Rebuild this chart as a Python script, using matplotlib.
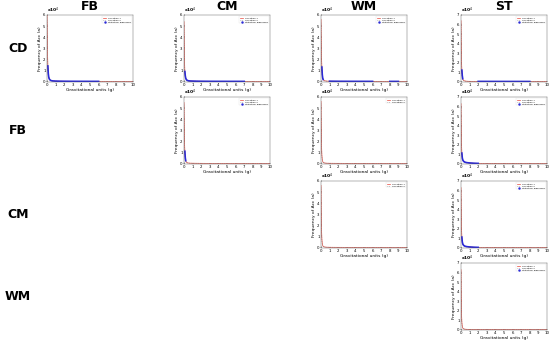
import numpy as np
import matplotlib.pyplot as plt

# --- data (frequency in units of 10^4) ---
x_g = [0, 0.05, 0.1, 0.15, 0.2, 0.25, 0.3, 0.4, 0.5, 0.7, 1.0, 1.5, 2, 3, 4, 5, 6, 7, 8, 9, 10]

col_titles = ['FB', 'CM', 'WM', 'ST']
row_titles = ['CD', 'FB', 'CM', 'WM']

# (row, col, ymax, condition 1, condition 2, significant x-ranges, legend entries)
panels = [
    (0, 0, 6, [6.2, 3.1, 1.4, 0.7, 0.40, 0.26, 0.18, 0.11, 0.07, 0.045, 0.03, 0.02, 0.015, 0.01, 0.008, 0.006, 0.005, 0.004, 0.003, 0.002, 0.001],
              [6.0, 2.9, 1.2, 0.6, 0.34, 0.22, 0.15, 0.09, 0.06, 0.040, 0.025, 0.018, 0.012, 0.008, 0.006, 0.005, 0.004, 0.003, 0.002, 0.002, 0.001],
              [(0.1, 6.5)], 3),
    (0, 1, 6, [5.4, 2.2, 0.9, 0.5, 0.30, 0.20, 0.14, 0.09, 0.06, 0.040, 0.03, 0.02, 0.015, 0.01, 0.008, 0.006, 0.005, 0.004, 0.003, 0.002, 0.001],
              [5.1, 2.0, 0.8, 0.45, 0.26, 0.17, 0.12, 0.08, 0.05, 0.035, 0.025, 0.018, 0.012, 0.008, 0.006, 0.005, 0.004, 0.003, 0.002, 0.002, 0.001],
              [(0.1, 7.0)], 3),
    (0, 2, 6, [5.6, 2.6, 1.3, 0.6, 0.30, 0.18, 0.12, 0.07, 0.05, 0.030, 0.02, 0.015, 0.012, 0.01, 0.008, 0.006, 0.005, 0.004, 0.003, 0.002, 0.001],
              [5.3, 2.4, 1.1, 0.5, 0.25, 0.15, 0.10, 0.06, 0.04, 0.025, 0.018, 0.012, 0.01, 0.008, 0.006, 0.005, 0.004, 0.003, 0.002, 0.002, 0.001],
              [(0.1, 0.25), (1.0, 6.5), (7.5, 9.0)], 3),
    (0, 3, 7, [6.4, 2.5, 1.2, 0.6, 0.30, 0.18, 0.12, 0.07, 0.05, 0.030, 0.02, 0.015, 0.012, 0.01, 0.008, 0.006, 0.005, 0.004, 0.003, 0.002, 0.001],
              [6.1, 2.3, 1.0, 0.5, 0.25, 0.15, 0.10, 0.06, 0.04, 0.025, 0.018, 0.012, 0.01, 0.008, 0.006, 0.005, 0.004, 0.003, 0.002, 0.002, 0.001],
              [(0.1, 0.2), (2.0, 8.5)], 3),
    (1, 1, 6, [5.5, 2.2, 1.1, 0.5, 0.25, 0.15, 0.10, 0.06, 0.04, 0.025, 0.02, 0.015, 0.01, 0.008, 0.006, 0.005, 0.004, 0.003, 0.002, 0.002, 0.001],
              [5.3, 2.0, 0.9, 0.4, 0.20, 0.12, 0.08, 0.05, 0.03, 0.020, 0.015, 0.012, 0.01, 0.008, 0.006, 0.005, 0.004, 0.003, 0.002, 0.002, 0.001],
              [(0.1, 0.2)], 3),
    (1, 2, 6, [5.6, 2.0, 0.8, 0.35, 0.18, 0.10, 0.07, 0.05, 0.03, 0.020, 0.015, 0.012, 0.01, 0.008, 0.006, 0.005, 0.004, 0.003, 0.002, 0.002, 0.001],
              [5.4, 1.9, 0.7, 0.30, 0.15, 0.09, 0.06, 0.04, 0.03, 0.020, 0.015, 0.012, 0.01, 0.008, 0.006, 0.005, 0.004, 0.003, 0.002, 0.002, 0.001],
              [], 2),
    (1, 3, 7, [6.3, 2.4, 1.1, 0.6, 0.40, 0.30, 0.24, 0.17, 0.13, 0.090, 0.06, 0.03, 0.015, 0.01, 0.008, 0.006, 0.005, 0.004, 0.003, 0.002, 0.001],
              [6.0, 2.2, 0.9, 0.5, 0.30, 0.22, 0.17, 0.12, 0.09, 0.060, 0.04, 0.02, 0.012, 0.008, 0.006, 0.005, 0.004, 0.003, 0.002, 0.002, 0.001],
              [(0.1, 2.0)], 3),
    (2, 2, 6, [5.6, 2.0, 0.8, 0.35, 0.18, 0.10, 0.07, 0.05, 0.03, 0.020, 0.015, 0.012, 0.01, 0.008, 0.006, 0.005, 0.004, 0.003, 0.002, 0.002, 0.001],
              [5.4, 1.9, 0.7, 0.30, 0.15, 0.09, 0.06, 0.04, 0.03, 0.020, 0.015, 0.012, 0.01, 0.008, 0.006, 0.005, 0.004, 0.003, 0.002, 0.002, 0.001],
              [], 2),
    (2, 3, 7, [6.3, 2.4, 1.1, 0.6, 0.40, 0.30, 0.24, 0.17, 0.13, 0.090, 0.06, 0.03, 0.015, 0.01, 0.008, 0.006, 0.005, 0.004, 0.003, 0.002, 0.001],
              [6.0, 2.2, 0.9, 0.5, 0.30, 0.22, 0.17, 0.12, 0.09, 0.060, 0.04, 0.02, 0.012, 0.008, 0.006, 0.005, 0.004, 0.003, 0.002, 0.002, 0.001],
              [(0.1, 2.2)], 3),
    (3, 3, 7, [6.3, 2.0, 0.8, 0.35, 0.18, 0.10, 0.07, 0.05, 0.03, 0.020, 0.015, 0.012, 0.01, 0.008, 0.006, 0.005, 0.004, 0.003, 0.002, 0.002, 0.001],
              [6.1, 1.9, 0.7, 0.30, 0.15, 0.09, 0.06, 0.04, 0.03, 0.020, 0.015, 0.012, 0.01, 0.008, 0.006, 0.005, 0.004, 0.003, 0.002, 0.002, 0.001],
              [], 3),
]

legend_labels = ['Condition 1', 'Condition 2', 'Statistical difference']

# --- layout in pixels of the 550x341 picture ---
W, H = 550, 341
col_left = [47, 184, 321, 461]
row_top = [15, 97, 181, 263]
ax_w, ax_h = 86, 67

fig = plt.figure(figsize=(5.5, 3.41), dpi=100)
x = np.array(x_g)

for row, col, ymax, c1, c2, sig, nleg in panels:
    ax = fig.add_axes([col_left[col] / W, 1 - (row_top[row] + ax_h) / H, ax_w / W, ax_h / H])
    c1 = np.array(c1)
    c2 = np.array(c2)
    ax.plot(x, c1, color='#e8483c', lw=0.5, label=legend_labels[0])
    ax.plot(x, c2, color='#888888', lw=0.5, ls=':', label=legend_labels[1])
    for a, b in sig:
        m = (x >= a) & (x <= b)
        ax.plot(x[m], c1[m], color='#2a2ad8', lw=1.2)
    if nleg == 3:
        # legend proxy for the significance markers
        ax.plot([], [], color='#2a2ad8', ls='none', marker='.', ms=1.5, label=legend_labels[2])
    ax.set_xlim(0, 10)
    ax.set_ylim(-0.05, ymax)
    ax.set_xticks(range(11))
    ax.set_yticks(range(ymax + 1))
    ax.tick_params(labelsize=2.8, length=1, width=0.3, pad=1, direction='in')
    for s in ax.spines.values():
        s.set_linewidth(0.3)
        s.set_color('#555555')
    ax.set_xlabel('Gravitational units (g)', fontsize=3.2, labelpad=0.5)
    ax.set_ylabel('Frequency of Acc (a)', fontsize=3.2, labelpad=1)
    ax.text(0.0, 1.0, r'x10$^4$', transform=ax.transAxes, fontsize=3.2,
            fontweight='bold', ha='left', va='bottom')
    leg = ax.legend(loc='upper right', fontsize=1.6, frameon=True, handlelength=1.5,
                    borderpad=0.4, labelspacing=0.2)
    leg.get_frame().set_linewidth(0.2)
    leg.get_frame().set_boxstyle('square', pad=0)

# column and row headings
for i, t in enumerate(col_titles):
    fig.text((col_left[i] + ax_w / 2) / W, 1 - 7 / H, t, fontsize=9, fontweight='bold',
             ha='center', va='center')
for i, t in enumerate(row_titles):
    fig.text(18 / W, 1 - (row_top[i] + ax_h / 2) / H, t, fontsize=9, fontweight='bold',
             ha='center', va='center')

fig.savefig('out.png', dpi=100, facecolor='white')
